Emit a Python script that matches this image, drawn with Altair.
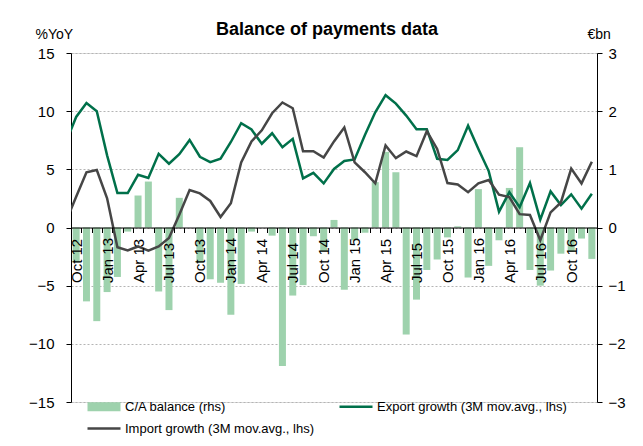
import json
import altair as alt
import pandas as pd

# ---- data ----
# month index 0 = Oct 12 ... 50 = Dec 16 (line series start one month earlier, Sep 12, clipped at the axis)
tick_labels = ["Oct 12", "Jan 13", "Apr 13", "Jul 13", "Oct 13", "Jan 14", "Apr 14", "Jul 14",
               "Oct 14", "Jan 15", "Apr 15", "Jul 15", "Oct 15", "Jan 16", "Apr 16", "Jul 16", "Oct 16"]

ca_balance = [-0.60, -1.27, -1.61, -1.11, -0.85, -0.07, 0.55, 0.79, -1.10, -1.42,
              0.51, 0.00, -0.61, -0.89, -0.95, -1.50, -0.97, -0.07, 0.00, -0.14,
              -2.38, -1.17, -0.99, -0.15, -0.41, 0.13, -1.07, -0.22, -0.09, 0.78,
              1.30, 0.95, -1.84, -1.24, -0.73, -0.55, -0.17, 0.02, -0.86, 0.66,
              -0.66, -0.22, 0.68, 1.38, -0.73, -1.00, -0.74, -0.45, -0.42, -0.19,
              -0.54]

export_growth = [7.3,
                 9.5, 10.7, 10.0, 6.2, 2.96, 2.96, 4.53, 4.25, 6.33, 5.48,
                 6.3, 7.53, 6.08, 5.62, 5.91, 7.35, 8.96, 8.42, 7.2, 8.1,
                 6.9, 7.62, 4.22, 4.7, 3.79, 5.03, 5.72, 5.85, 7.96, 9.9,
                 11.37, 10.65, 9.62, 8.45, 8.45, 5.91, 5.8, 6.65, 8.75, 6.75,
                 4.85, 1.36, 3.03, 1.75, 3.82, 0.68, 3.1, 1.93, 2.85, 1.62,
                 2.9]

import_growth = [0.5,
                 2.65, 4.74, 4.94, 2.51, -1.69, -1.97, -1.63, -2.0, -1.63, -0.91,
                 1.1, 3.22, 2.93, 2.28, 0.9, 2.08, 5.6, 7.4, 8.35, 9.82,
                 10.75, 10.25, 6.55, 6.55, 6.02, 7.4, 8.6, 5.6, 4.75, 3.8,
                 7.06, 5.96, 6.53, 6.13, 8.28, 6.75, 3.82, 3.7, 3.03, 3.79,
                 4.08, 2.82, 2.62, 1.15, 1.08, -1.1, 1.3, 2.15, 5.07, 3.79,
                 5.65]

series_names = ["C/A balance (rhs)", "Export growth (3M mov.avg., lhs)", "Import growth (3M mov.avg., lhs)"]
series_colors = ["#9ed2ad", "#00704a", "#464646"]
# legend swatches (unit = half the symbol box): a flat box for the bars, thin strips for the lines
series_swatches = ["M-1,-0.9H5.6V0.9H-1Z", "M-1,-0.25H5.6V0.25H-1Z", "M-1,-0.25H5.6V0.25H-1Z"]
lhs_ticks = [-15, -10, -5, 0, 5, 10, 15]
rhs_ticks = [-3, -2, -1, 0, 1, 2, 3]

# ---- tables ----
bars_df = pd.DataFrame({
    "idx": list(range(len(ca_balance))),
    "value": ca_balance,
    "series": series_names[0],
})
line_idx = list(range(-1, len(export_growth) - 1))
lines_df = pd.concat([
    pd.DataFrame({"idx": line_idx, "value": export_growth, "series": series_names[1]}),
    pd.DataFrame({"idx": line_idx, "value": import_growth, "series": series_names[2]}),
])

FONT = "Liberation Sans"
W, H = 526, 349
n = len(ca_balance)
step = W / n

x_scale = alt.Scale(domain=[-0.5, n - 0.5], nice=False, zero=False, padding=0)
label_expr = "datum.value % 3 == 0 ? " + json.dumps(tick_labels) + "[datum.value / 3] : ''"
x_axis = alt.Axis(
    values=list(range(n)), labelExpr=label_expr, title=None, orient="bottom",
    offset=-H / 2, tickSize=5, tickOffset=-step / 2, labelOffset=step / 2,
    labelAngle=270, labelAlign="left", labelBaseline="middle", labelPadding=50,
    labelOverlap=False, labelFlush=False, labelFont=FONT, labelFontSize=15,
    labelColor="black", domainColor="black", tickColor="black", grid=False, zindex=1,
)

color_scale = alt.Scale(domain=series_names, range=series_colors)
shape_scale = alt.Scale(domain=series_names, range=series_swatches)
legend = alt.Legend(
    title=None, orient="none", legendX=15, legendY=347, columns=2, direction="horizontal",
    symbolSize=100, symbolStrokeWidth=0, symbolOpacity=1,
    labelFont=FONT, labelFontSize=13, labelColor="black", labelLimit=400,
    columnPadding=23, rowPadding=8, labelOffset=26,
)

bars = alt.Chart(bars_df).mark_bar(size=7).encode(
    x=alt.X("idx:Q", scale=x_scale, axis=x_axis),
    y=alt.Y("value:Q", scale=alt.Scale(domain=[-3, 3], nice=False),
            axis=alt.Axis(orient="right", values=rhs_ticks, title="€bn", titleAngle=0,
                          titleX=-10, titleY=-19, titleAlign="left", titleBaseline="middle",
                          titleFont=FONT, titleFontSize=14, titleFontWeight="normal",
                          labelFont=FONT, labelFontSize=15, labelColor="black",
                          tickSize=5, labelPadding=6, domainColor="black", tickColor="black",
                          grid=False)),
    color=alt.Color("series:N", scale=color_scale, legend=legend),
)

lines = alt.Chart(lines_df).mark_line(strokeWidth=2.5, clip=True).encode(
    x=alt.X("idx:Q", scale=x_scale, axis=x_axis),
    y=alt.Y("value:Q", scale=alt.Scale(domain=[-15, 15], nice=False),
            axis=alt.Axis(orient="left", values=lhs_ticks, title="%YoY", titleAngle=0,
                          titleX=-36, titleY=-19, titleAlign="left", titleBaseline="middle",
                          titleFont=FONT, titleFontSize=14, titleFontWeight="normal",
                          labelFont=FONT, labelFontSize=15, labelColor="black",
                          tickSize=5, labelPadding=12, domainColor="black", tickColor="black",
                          grid=True, gridColor="#b4b4b4", gridDash=[2, 2], gridWidth=1)),
    color=alt.Color("series:N", scale=color_scale, legend=legend),
    detail="series:N",
)

# legend-only layer: draws no marks, carries the swatch shapes for the shared legend
legend_layer = alt.Chart(lines_df).transform_filter("false").mark_point(filled=True).encode(
    color=alt.Color("series:N", scale=color_scale, legend=legend),
    shape=alt.Shape("series:N", scale=shape_scale, legend=legend),
)

chart = alt.layer(bars, lines, legend_layer).resolve_scale(y="independent").properties(
    width=W, height=H,
    title=alt.Title("Balance of payments data", font=FONT, fontSize=18, fontWeight="bold",
                    anchor="middle", frame="group", offset=-12, dx=-7, color="black"),
    autosize=alt.AutoSizeParams(type="none"),
    padding={"left": 63, "top": 45, "right": 36, "bottom": 34},
).configure_view(stroke=None).configure(font=FONT)

chart.save("out.html", embed_options={"renderer": "svg", "actions": False})
